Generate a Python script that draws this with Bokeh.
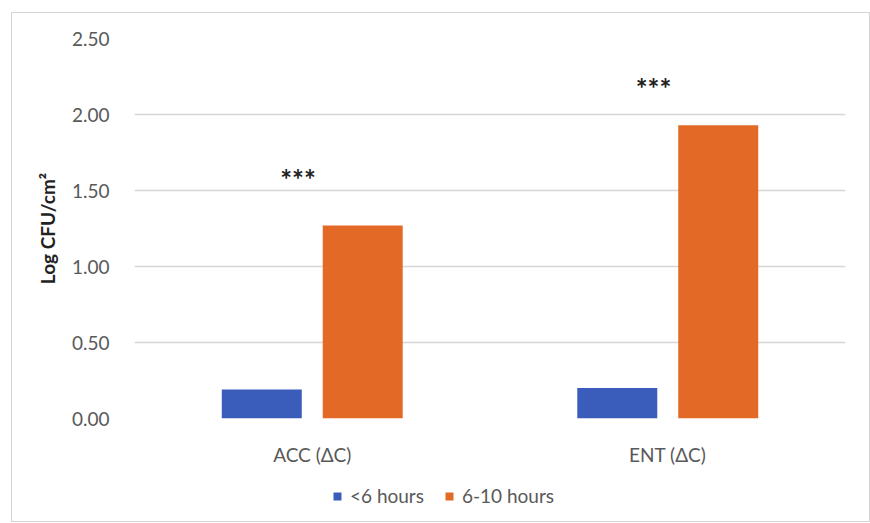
from bokeh.plotting import figure
from bokeh.layouts import column
from bokeh.models import (ColumnDataSource, FactorRange, FixedTicker, NumeralTickFormatter,
                          Legend, LegendItem, Range1d)
from bokeh.transform import dodge
from bokeh.core.properties import value
from bokeh.embed import file_html
from bokeh.resources import INLINE

categories = ["ACC (ΔC)", "ENT (ΔC)"]
series_names = ["<6 hours", "6-10 hours"]
under6 = [0.19, 0.20]
six_to_ten = [1.27, 1.93]
sig_labels = ["***", "***"]
sig_y = [1.575, 2.175]
y_ticks = [0.0, 0.5, 1.0, 1.5, 2.0, 2.5]

BLUE = "#3a5dbb"
ORANGE = "#e36a26"
GREY = "#595959"
FONT = "Lato"

src = ColumnDataSource(dict(cat=categories, a=under6, b=six_to_ten, lab=sig_labels, ly=sig_y))

p = figure(x_range=FactorRange(factors=categories, range_padding=0),
           y_range=Range1d(0, 2.5),
           width=857, height=455, output_backend="svg", toolbar_location=None,
           min_border_left=122, min_border_right=24, min_border_top=25, min_border_bottom=50)
p.outline_line_color = None

r1 = p.vbar(x=dodge("cat", -0.142, range=p.x_range), top="a", width=0.225, source=src,
            fill_color=BLUE, line_color=None)
r2 = p.vbar(x=dodge("cat", 0.142, range=p.x_range), top="b", width=0.225, source=src,
            fill_color=ORANGE, line_color=None)
p.text(x=dodge("cat", -0.04, range=p.x_range), y="ly", text="lab", source=src,
       text_align="center", text_baseline="middle",
       text_font=value(FONT), text_font_size="28px", text_font_style="bold",
       text_color="#222222")

p.ygrid.grid_line_color = "#d6d6d6"
p.ygrid.grid_line_width = 1.5
p.xgrid.grid_line_color = None

ya = p.yaxis[0]
ya.ticker = FixedTicker(ticks=y_ticks)
ya.formatter = NumeralTickFormatter(format="0.00")
ya.axis_line_color = None
ya.major_tick_line_color = None
ya.minor_tick_line_color = None
ya.major_label_standoff = 19
ya.major_label_text_font = FONT
ya.major_label_text_font_size = "19px"
ya.major_label_text_color = GREY
ya.axis_label = "Log CFU/cm²"
ya.axis_label_text_font = FONT
ya.axis_label_text_font_style = "bold"
ya.axis_label_text_font_size = "19px"
ya.axis_label_text_color = "#222222"
ya.axis_label_standoff = 10

xa = p.xaxis[0]
xa.axis_line_color = None
xa.major_tick_line_color = None
xa.minor_tick_line_color = None
xa.major_label_standoff = 18
xa.major_label_text_font = FONT
xa.major_label_text_font_size = "19px"
xa.major_label_text_color = GREY

# legend strip below the chart
p2 = figure(width=857, height=53, output_backend="svg", toolbar_location=None,
            x_range=Range1d(0, 1), y_range=Range1d(0, 1),
            x_axis_type=None, y_axis_type=None,
            min_border_left=0, min_border_right=0, min_border_top=0, min_border_bottom=0)
p2.outline_line_color = None
p2.grid.grid_line_color = None
# swatch-only renderers, drawn outside the visible range
l1 = p2.vbar(x=[-10], top=[-10], width=0.1, fill_color=BLUE, line_color=None)
l2 = p2.vbar(x=[-10], top=[-10], width=0.1, fill_color=ORANGE, line_color=None)
legend = Legend(items=[LegendItem(label=series_names[0], renderers=[l1]),
                       LegendItem(label=series_names[1], renderers=[l2])],
                orientation="horizontal", location=(198, 14),
                label_text_font=FONT, label_text_font_size="19px", label_text_color=GREY,
                glyph_width=10, glyph_height=10, label_standoff=8, spacing=20,
                border_line_color=None, background_fill_alpha=0, padding=0, margin=0)
p2.add_layout(legend, "center")

layout = column(p, p2, spacing=0,
                styles={"border": "1px solid #d4d4d4", "margin-left": "11px", "margin-top": "12px"})

open("out.html", "w").write(file_html(layout, INLINE))
